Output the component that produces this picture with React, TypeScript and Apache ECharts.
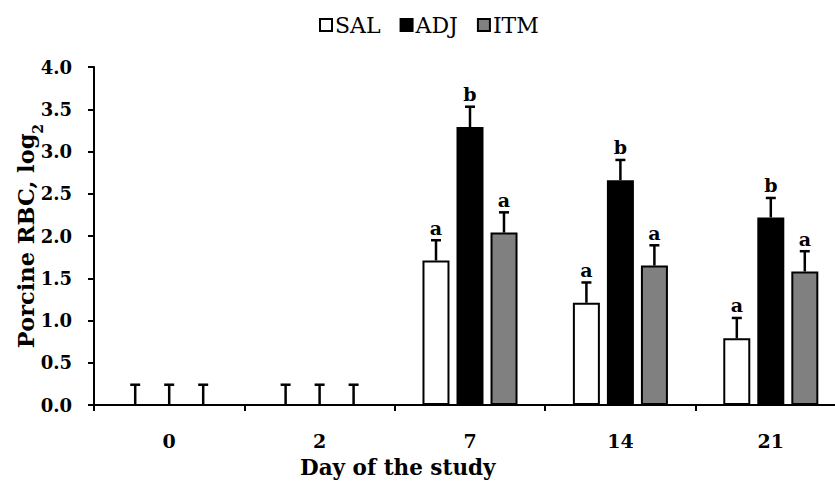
import React, { useEffect, useRef } from "react";
import * as echarts from "echarts";

const days = ["0", "2", "7", "14", "21"];
const seriesNames = ["SAL", "ADJ", "ITM"];
const salValues = [0, 0, 1.71, 1.21, 0.79];
const adjValues = [0, 0, 3.29, 2.66, 2.22];
const itmValues = [0, 0, 2.04, 1.65, 1.58];
const salErr = [0.24, 0.24, 0.24, 0.24, 0.24];
const adjErr = [0.24, 0.24, 0.24, 0.24, 0.23];
const itmErr = [0.24, 0.24, 0.24, 0.24, 0.24];
const salLetters = ["", "", "a", "a", "a"];
const adjLetters = ["", "", "b", "b", "b"];
const itmLetters = ["", "", "a", "a", "a"];
const yTicks = [0, 0.5, 1, 1.5, 2, 2.5, 3, 3.5, 4];

const FONT = "'DejaVu Serif', 'Liberation Serif', serif";

export default function App() {
  const ref = useRef<HTMLDivElement>(null);
  useEffect(() => {
    if (!ref.current) return;
    const chart = echarts.init(ref.current, undefined, { renderer: "svg" });
    const fills = ["#ffffff", "#000000", "#808080"];
    const values = [salValues, adjValues, itmValues];
    const errs = [salErr, adjErr, itmErr];
    const letters = [salLetters, adjLetters, itmLetters];

    const barSeries = seriesNames.map((name, i) => ({
      name,
      type: "bar",
      data: values[i],
      barWidth: 27,
      barGap: "26%",
      itemStyle: { color: fills[i], borderColor: "#000", borderWidth: 2 },
      z: 2,
    }));

    const errSeries = seriesNames.map((name, i) => ({
      name: name + "_err",
      type: "custom",
      z: 5,
      data: values[i].map((v, k) => [k, v, errs[i][k]]),
      encode: { x: 0, y: 1 },
      renderItem: (params: any, api: any) => {
        const k = api.value(0);
        const v = api.value(1);
        const e = api.value(2);
        const letter = letters[i][k];
        const base = api.coord([k, v]);
        const band = api.size([1, 0])[0];
        const x = base[0] + (i - 1) * band * 0.226;
        const top = api.coord([k, v + e])[1];
        const children: any[] = [
          {
            type: "line",
            shape: { x1: x, y1: base[1], x2: x, y2: top },
            style: { stroke: "#000", lineWidth: 2.5 },
          },
          {
            type: "line",
            shape: { x1: x - 5, y1: top, x2: x + 5, y2: top },
            style: { stroke: "#000", lineWidth: 2.5 },
          },
        ];
        if (letter) {
          children.push({
            type: "text",
            style: {
              text: letter,
              x: x,
              y: top - 3,
              textAlign: "center",
              textVerticalAlign: "bottom",
              font: `bold 19px ${FONT}`,
              fill: "#000",
            },
          });
        }
        return { type: "group", children };
      },
    }));

    chart.setOption({
      animation: false,
      textStyle: { fontFamily: FONT },
      legend: {
        data: seriesNames,
        top: 9,
        left: 314,
        icon: "rect",
        itemWidth: 12,
        itemHeight: 12,
        itemGap: 19,
        textStyle: { fontFamily: FONT, fontSize: 22, color: "#000", padding: [0, 0, 0, -2] },
      },
      grid: { left: 94, right: 0, top: 67, bottom: 78, outerBoundsMode: "none", containLabel: false },
      xAxis: {
        type: "category",
        data: days,
        axisLine: { lineStyle: { color: "#000", width: 2 } },
        axisTick: { show: true, length: 6, lineStyle: { color: "#000", width: 2 } },
        axisLabel: { color: "#000", fontWeight: "bold", fontSize: 19, fontFamily: FONT, margin: 26 },
      },
      yAxis: {
        type: "value",
        min: 0,
        max: 4,
        interval: 0.5,
        name: "{a|Porcine RBC, log}{s|2}",
        nameLocation: "middle",
        nameRotate: 90,
        nameGap: 57,
        nameMoveOverlap: false,
        nameTextStyle: {
          rich: {
            a: { fontFamily: FONT, fontWeight: "bold", fontSize: 22.5, color: "#000" },
            s: { fontFamily: FONT, fontWeight: "bold", fontSize: 14, color: "#000", verticalAlign: "bottom", padding: [0, 0, -8, 0] },
          },
        },
        splitLine: { show: false },
        axisLine: { show: true, lineStyle: { color: "#000", width: 2 } },
        axisTick: { show: true, length: 6, lineStyle: { color: "#000", width: 2 } },
        axisLabel: {
          color: "#000",
          fontWeight: "bold",
          fontSize: 18,
          fontFamily: FONT,
          margin: 22,
          formatter: (v: number) => (yTicks.includes(v) ? v.toFixed(1) : ""),
        },
      },
      graphic: [
        {
          type: "text",
          left: 300,
          top: 456,
          style: { text: "Day of the study", font: `bold 21.5px ${FONT}`, fill: "#000" },
        },
      ],
      series: [...barSeries, ...errSeries],
    });
    return () => chart.dispose();
  }, []);
  return (
    <div style={{ position: "fixed", left: 0, top: 0, width: 835, height: 483, overflow: "hidden", background: "#fff" }}>
      <div ref={ref} style={{ width: 846, height: 483 }} />
    </div>
  );
}
